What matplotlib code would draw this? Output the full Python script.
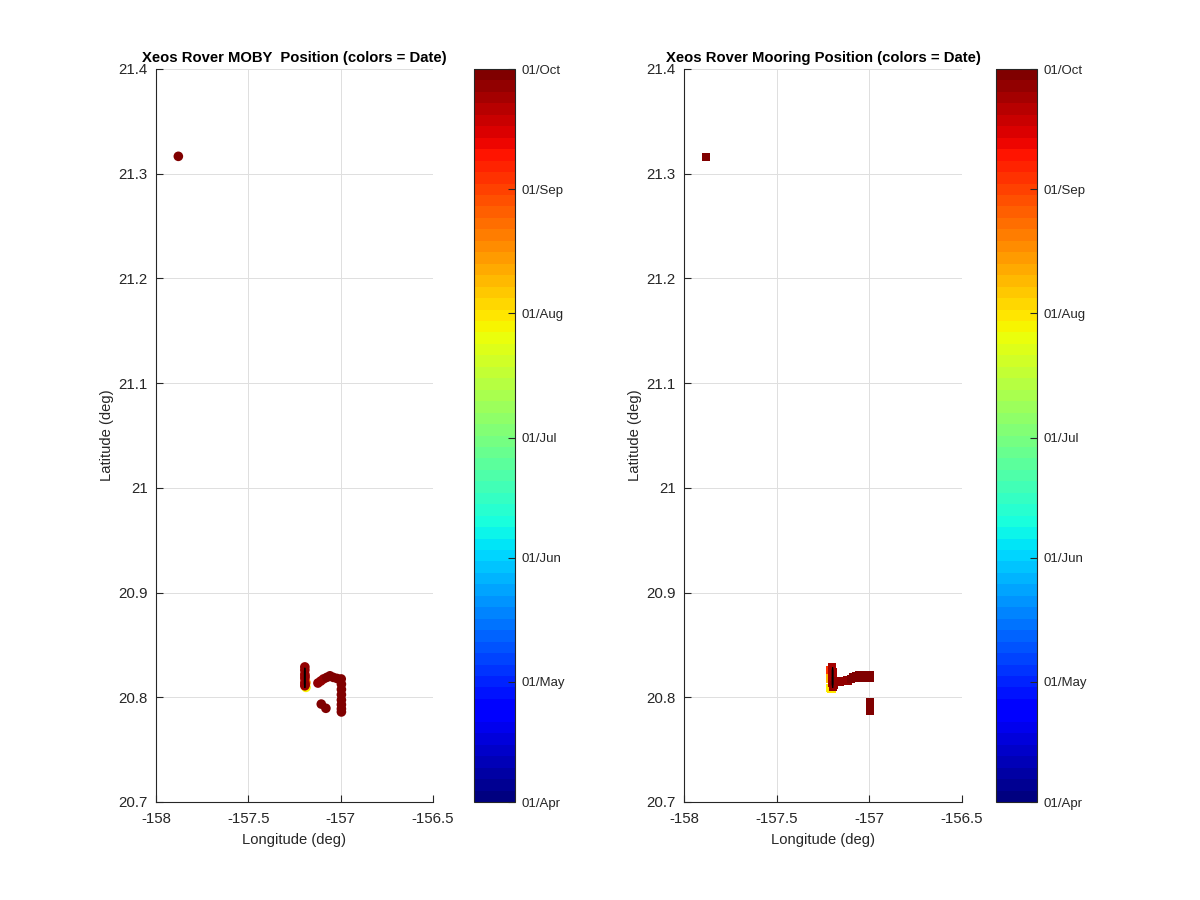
import numpy as np
import matplotlib.pyplot as plt
from matplotlib.ticker import FuncFormatter

plt.rcParams['font.family'] = ['Liberation Sans', 'DejaVu Sans']
plt.rcParams['axes.unicode_minus'] = False

# colour scale: days since 01/Apr (01/Oct = 183)
cbar_ticks = [0, 30, 61, 91, 122, 153, 183]
cbar_labels = ['01/Apr', '01/May', '01/Jun', '01/Jul', '01/Aug', '01/Sep', '01/Oct']

# MOBY rover positions
moby_lon = [-157.188, -157.188,
            -157.194, -157.194, -157.194, -157.194, -157.194, -157.194, -157.193, -157.193,
            -157.123, -157.108, -157.093, -157.075, -157.058, -157.040, -157.020, -156.997,
            -156.996, -156.996, -156.996, -156.996, -156.996, -156.996, -156.996,
            -157.105, -157.080, -157.879]
moby_lat = [20.8095, 20.814,
            20.811, 20.814, 20.818, 20.822, 20.826, 20.829, 20.812, 20.820,
            20.8136, 20.8155, 20.8175, 20.819, 20.8205, 20.819, 20.818, 20.8175,
            20.8125, 20.8075, 20.8025, 20.7975, 20.793, 20.789, 20.786,
            20.7935, 20.7895, 21.3166]
moby_day = [120, 135,
            176, 176, 177, 177, 178, 178, 179, 179,
            180, 180, 180, 181, 181, 181, 181, 182,
            182, 182, 182, 182, 183, 183, 183,
            181, 181, 182]
moby_track_lon = [-157.194, -157.1965, -157.1965, -157.194, -157.1915, -157.1915, -157.194]
moby_track_lat = [20.8095, 20.8125, 20.825, 20.828, 20.825, 20.8125, 20.8095]

# Mooring rover positions
moor_lon = [-157.210, -157.205, -157.212, -157.212,
            -157.200, -157.198, -157.198, -157.198, -157.197, -157.190, -157.187,
            -157.175, -157.160, -157.145, -157.130, -157.117, -157.100, -157.085,
            -157.070, -157.057, -157.057, -157.040, -157.030, -157.025, -157.010,
            -156.998, -156.998, -156.996, -156.995, -156.995, -157.883]
moor_lat = [20.809, 20.808, 20.818, 20.826,
            20.8285, 20.824, 20.819, 20.814, 20.810, 20.812, 20.815,
            20.815, 20.815, 20.8155, 20.8155, 20.816, 20.8175, 20.819,
            20.820, 20.8213, 20.8185, 20.821, 20.8185, 20.8205, 20.8213,
            20.8213, 20.8185, 20.7955, 20.791, 20.787, 21.3157]
moor_day = [118, 122, 130, 155,
            176, 176, 177, 177, 178, 178, 179,
            180, 180, 180, 180, 180, 181, 181,
            181, 181, 181, 181, 181, 182, 182,
            182, 182, 183, 183, 183, 182]
moor_track_lon = [-157.198, -157.2005, -157.2005, -157.198, -157.1955, -157.1955, -157.198]
moor_track_lat = [20.8095, 20.8125, 20.8255, 20.8285, 20.8255, 20.8125, 20.8095]

cmap = plt.get_cmap('jet', 64)
grey = '#262626'

fig = plt.figure(figsize=(12, 9), dpi=100)


def draw_panel(ax_rect, cb_rect, lon, lat, day, tlon, tlat, marker, size, title):
    ax = fig.add_axes(ax_rect)
    order = np.argsort(day, kind='stable')
    lon = np.asarray(lon)[order]
    lat = np.asarray(lat)[order]
    day = np.asarray(day)[order]
    sc = ax.scatter(lon, lat, c=day, cmap=cmap, vmin=0, vmax=183,
                    s=size, marker=marker, linewidths=0, zorder=3)
    ax.plot(tlon, tlat, color='k', lw=0.8, zorder=4)
    ax.set_xlim(-158, -156.5)
    ax.set_ylim(20.7, 21.4)
    ax.set_xticks([-158, -157.5, -157, -156.5])
    ax.set_yticks(np.round(np.arange(20.7, 21.41, 0.1), 1))
    fmt = FuncFormatter(lambda v, p: '%g' % v)
    ax.xaxis.set_major_formatter(fmt)
    ax.yaxis.set_major_formatter(fmt)
    ax.grid(True, color='#dfdfdf', lw=0.7, zorder=0)
    ax.set_axisbelow(True)
    for s in ['top', 'right']:
        ax.spines[s].set_visible(False)
    for s in ['left', 'bottom']:
        ax.spines[s].set_color(grey)
        ax.spines[s].set_linewidth(0.8)
    ax.tick_params(direction='in', length=5, width=0.8, colors=grey,
                   labelsize=10.8)
    ax.tick_params(axis='y', pad=6)
    ax.tick_params(axis='x', pad=7)
    ax.set_xlabel('Longitude (deg)', fontsize=10.6, color=grey, labelpad=5)
    ax.set_ylabel('Latitude (deg)', fontsize=10.6, color=grey, labelpad=3)
    ax.set_title(title, fontsize=10.7, fontweight='bold', pad=5)

    cax = fig.add_axes(cb_rect)
    cb = fig.colorbar(sc, cax=cax)
    cb.set_ticks(cbar_ticks)
    cb.set_ticklabels(cbar_labels)
    cb.outline.set_edgecolor(grey)
    cb.outline.set_linewidth(0.8)
    cax.tick_params(direction='in', length=5, width=0.8, colors=grey,
                    labelsize=9.5, pad=4.5)
    return ax


bottom = 1 - 802 / 900
height = 733 / 900
draw_panel([156 / 1200, bottom, 277 / 1200, height],
           [474 / 1200, bottom, 41 / 1200, height],
           moby_lon, moby_lat, moby_day, moby_track_lon, moby_track_lat,
           'o', 48, 'Xeos Rover MOBY  Position (colors = Date)')
draw_panel([684 / 1200, bottom, 278 / 1200, height],
           [996 / 1200, bottom, 41 / 1200, height],
           moor_lon, moor_lat, moor_day, moor_track_lon, moor_track_lat,
           's', 36, 'Xeos Rover Mooring Position (colors = Date)')

fig.savefig('out.png', dpi=100)
